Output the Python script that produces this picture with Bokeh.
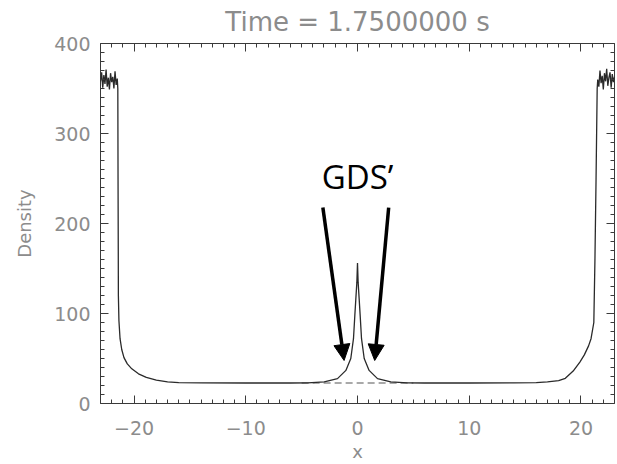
from bokeh.plotting import figure
from bokeh.models import LinearAxis, FixedTicker, Arrow, NormalHead, Label, Range1d, ColumnDataSource
from bokeh.embed import file_html
from bokeh.resources import INLINE

# ---------------- data ----------------
title_text = "Time = 1.7500000 s"
x_label = "x"
y_label = "Density"
annotation_text = "GDS\u2019"

x_major = [-20, -10, 0, 10, 20]
x_minor = [-23, -22, -21, -19, -18, -17, -16, -15, -14, -13, -12, -11, -9, -8, -7, -6, -5, -4, -3, -2, -1,
           1, 2, 3, 4, 5, 6, 7, 8, 9, 11, 12, 13, 14, 15, 16, 17, 18, 19, 21, 22, 23]
x_tick_labels = {-20: "\u221220", -10: "\u221210", 0: "0", 10: "10", 20: "20"}
y_major = [0, 100, 200, 300, 400]
y_minor = [10, 20, 30, 40, 50, 60, 70, 80, 90, 110, 120, 130, 140, 150, 160, 170, 180, 190,
           210, 220, 230, 240, 250, 260, 270, 280, 290, 310, 320, 330, 340, 350, 360, 370, 380, 390]

# density profile (solid curve)
x_vals = [
    -23.0, -22.9, -22.8, -22.7, -22.6, -22.5, -22.4, -22.3, -22.2, -22.1, -22.0, -21.9, -21.8, -21.7, -21.6, -21.5,
    -21.45, -21.43, -21.41, -21.40, -21.35, -21.25, -21.1, -20.9, -20.6, -20.2, -19.6, -18.9, -18.0, -17.0, -16.0, -14.0, -10.0, -6.0,
    -4.46, -2.98, -1.79, -1.04, -0.6, -0.36, -0.24, -0.15, -0.06, 0.0,
    0.06, 0.15, 0.24, 0.36, 0.6, 1.04, 1.79, 2.98, 4.46,
    6.0, 10.0, 14.0, 16.0, 17.0, 18.0, 18.6, 19.3, 19.9, 20.3, 20.68, 20.9, 21.15, 21.25, 21.35, 21.45,
    21.5, 21.6, 21.7, 21.8, 21.9, 22.0, 22.1, 22.2, 22.3, 22.4, 22.5, 22.6, 22.7, 22.8, 22.9, 23.0,
]
density = [
    358, 368, 351, 365, 355, 371, 352, 362, 349, 367, 357, 363, 350, 369, 354, 361,
    350, 250, 170, 120, 92, 72, 60, 51, 44, 38.5, 33, 29, 26, 24, 23.2, 22.9, 22.8, 22.8,
    22.9, 24, 27.6, 36.8, 50, 72, 97.6, 116, 134, 156,
    134, 116, 97.6, 72, 50, 36.8, 27.6, 24, 22.9,
    22.8, 22.8, 22.9, 23.3, 24, 25.5, 28, 36, 46, 54, 64, 72, 90, 160, 250, 350,
    360, 352, 370, 356, 364, 349, 367, 358, 372, 353, 362, 368, 351, 366, 357, 363,
]

# initial background level (dashed)
x_init = [-5.0, 5.0]
density_init = [22.8, 22.8]

# annotation arrows (data coordinates)
arrow_x_start = [-3.10, 2.79]
arrow_y_start = [217.7, 217.7]
arrow_x_end = [-1.20, 1.54]
arrow_y_end = [47.8, 47.8]
label_x = 0.0
label_y = 252.0

# ---------------- figure ----------------
GRAY = "#8c8c8c"
AXC = "#3a3a3a"
FONT = "DejaVu Sans"

p = figure(width=617, height=464, x_range=Range1d(-23, 23), y_range=Range1d(0, 400),
           x_axis_location=None, y_axis_location=None,
           output_backend="svg", toolbar_location=None,
           min_border_left=100, min_border_right=3, min_border_top=43, min_border_bottom=59)
p.grid.visible = False
p.outline_line_color = AXC
p.outline_line_width = 1
p.background_fill_color = "white"
p.border_fill_color = "white"

p.title.text = title_text
p.title.align = "center"
p.title.vertical_align = "top"
p.title.text_font = FONT
p.title.text_font_style = "normal"
p.title.text_font_size = "26px"
p.title.text_line_height = 0.8
p.title.text_color = GRAY
p.title.offset = 0
p.title.standoff = 10

bottom_axis = LinearAxis(axis_label=x_label)
left_axis = LinearAxis(axis_label=y_label)
top_axis = LinearAxis()
right_axis = LinearAxis()
p.add_layout(bottom_axis, "below")
p.add_layout(left_axis, "left")
p.add_layout(top_axis, "above")
p.add_layout(right_axis, "right")

for ax in [bottom_axis, top_axis]:
    ax.ticker = FixedTicker(ticks=x_major, minor_ticks=x_minor)
for ax in [left_axis, right_axis]:
    ax.ticker = FixedTicker(ticks=y_major, minor_ticks=y_minor)

for ax in [bottom_axis, left_axis, top_axis, right_axis]:
    ax.axis_line_color = None
    ax.major_tick_in = 8
    ax.major_tick_out = 0
    ax.minor_tick_in = 4
    ax.minor_tick_out = 0
    ax.major_tick_line_color = AXC
    ax.minor_tick_line_color = AXC
    ax.major_label_text_font = FONT
    ax.major_label_text_font_size = "19px"
    ax.major_label_text_color = GRAY
    ax.axis_label_text_font = FONT
    ax.axis_label_text_font_style = "normal"
    ax.axis_label_text_font_size = "18px"
    ax.axis_label_text_color = GRAY

for ax in [top_axis, right_axis]:
    ax.major_label_text_color = None
    ax.major_label_text_font_size = "1px"
    ax.major_label_standoff = 0

bottom_axis.major_label_overrides = x_tick_labels
bottom_axis.major_label_standoff = 17
bottom_axis.axis_label_standoff = 3
left_axis.major_label_standoff = 10
left_axis.axis_label_standoff = 16

src = ColumnDataSource(dict(x=x_vals, y=density))
p.line(x=x_init, y=density_init, line_color="#555555", line_width=1.2, line_dash="7 4")
p.line("x", "y", source=src, line_color="#2a2a2a", line_width=1.3)

for xs, ys, xe, ye in zip(arrow_x_start, arrow_y_start, arrow_x_end, arrow_y_end):
    p.add_layout(Arrow(end=NormalHead(size=16, fill_color="black", line_color="black"),
                       x_start=xs, y_start=ys, x_end=xe, y_end=ye,
                       line_color="black", line_width=3.5))

p.add_layout(Label(x=label_x, y=label_y, text=annotation_text, text_align="center",
                   text_baseline="alphabetic", text_font="Open Sans", text_font_size="33px",
                   text_color="black"))

open("out.html", "w").write(file_html(p, INLINE))
